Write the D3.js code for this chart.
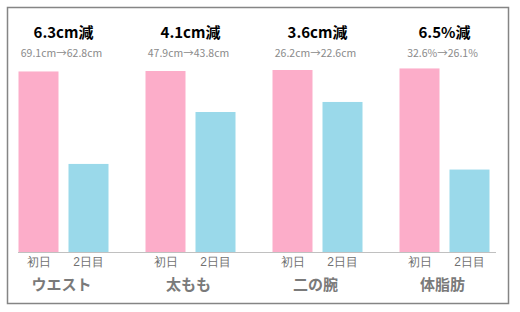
<!DOCTYPE html>
<html>
<head>
<meta charset="utf-8">
<script src="https://cdn.jsdelivr.net/npm/d3@7"></script>
<style>
  body { margin: 0; background: #fff; }
  svg { display: block; font-family: "Noto Sans CJK JP", "Noto Sans", sans-serif; }
</style>
</head>
<body>
<svg></svg>
<script>
let parts = ["ウエスト", "太もも", "二の腕", "体脂肪"];
let days = ["初日", "2日目"];
let firstDay = [69.1, 47.9, 26.2, 32.6];
let secondDay = [62.8, 43.8, 22.6, 26.1];
let units = ["cm", "cm", "cm", "%"];
// each group has its own value range on the y axis
let axisLow = [56.8, 29.8, 5.7, 20.8];
let axisHigh = [69.2, 48.0, 26.2, 32.5];

let width = 520, height = 312;
let baseY = 252, topY = 70;
let colors = ["#fcadc9", "#9ad9ea"];

let svg = d3.select("svg")
  .attr("width", width)
  .attr("height", height);

svg.append("rect")
  .attr("x", 7.5)
  .attr("y", 7.5)
  .attr("width", 501)
  .attr("height", 296)
  .attr("fill", "#fff")
  .attr("stroke", "#858585")
  .attr("stroke-width", 1.5);

let xScale = d3.scaleBand()
  .domain(parts)
  .range([0, 508]);

let innerScale = d3.scaleBand()
  .domain(days)
  .range([-45, 45])
  .paddingInner(0.2);

let groups = svg.selectAll(".group")
  .data(parts)
  .enter()
  .append("g")
  .attr("class", "group")
  .attr("transform", d => `translate(${xScale(d) + xScale.bandwidth() / 2}, 0)`);

groups.each(function (part, i) {
  let g = d3.select(this);
  let yScale = d3.scaleLinear()
    .domain([axisLow[i], axisHigh[i]])
    .range([baseY, topY]);
  let vals = [firstDay[i], secondDay[i]];

  g.selectAll("rect")
    .data(vals)
    .enter()
    .append("rect")
    .attr("x", (v, j) => innerScale(days[j]))
    .attr("width", innerScale.bandwidth())
    .attr("y", v => yScale(v))
    .attr("height", v => baseY - yScale(v))
    .attr("fill", (v, j) => colors[j]);

  let diff = (firstDay[i] - secondDay[i]).toFixed(1);
  g.append("text")
    .attr("x", 0)
    .attr("y", 38)
    .attr("text-anchor", "middle")
    .attr("font-size", 15)
    .attr("font-weight", "bold")
    .attr("fill", "#000")
    .text(`${diff}${units[i]}減`);

  g.append("text")
    .attr("x", -2)
    .attr("y", 57)
    .attr("text-anchor", "middle")
    .attr("font-size", 10.5)
    .attr("fill", "#8a8a8a")
    .text(`${firstDay[i]}${units[i]}→${secondDay[i]}${units[i]}`);

  let axis = d3.axisBottom(innerScale).tickSize(0).tickPadding(0);
  let ax = g.append("g")
    .attr("transform", `translate(0, ${baseY + 5})`)
    .call(axis);
  ax.select(".domain").remove();
  ax.selectAll("text")
    .attr("font-size", 12)
    .attr("fill", "#707070")
    .attr("dy", "0.71em")
    .attr("y", 0);

  g.append("text")
    .attr("x", -2)
    .attr("y", 290)
    .attr("text-anchor", "middle")
    .attr("font-size", 15)
    .attr("font-weight", "bold")
    .attr("fill", "#7a7a7a")
    .text(part);
});

svg.append("line")
  .attr("x1", 18)
  .attr("x2", 496)
  .attr("y1", baseY + 0.5)
  .attr("y2", baseY + 0.5)
  .attr("stroke", "#c0c0c0")
  .attr("stroke-width", 1);
</script>
</body>
</html>
